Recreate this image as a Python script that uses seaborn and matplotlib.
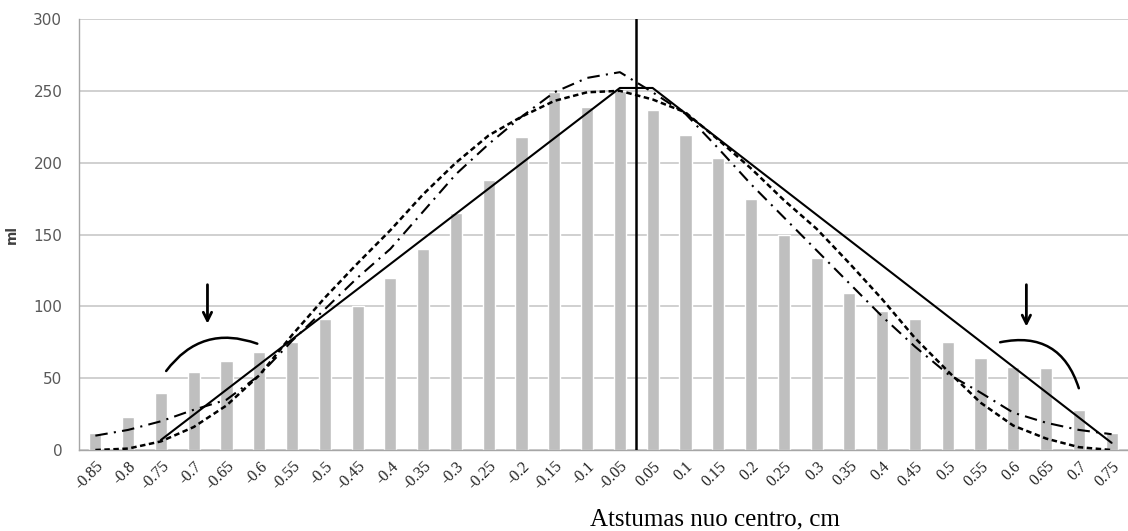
import matplotlib
matplotlib.use("Agg")
import matplotlib.pyplot as plt
import seaborn as sns
import numpy as np
import pandas as pd

# distance from the centre, cm (category labels)
distances = ["-0.85", "-0.8", "-0.75", "-0.7", "-0.65", "-0.6", "-0.55", "-0.5",
             "-0.45", "-0.4", "-0.35", "-0.3", "-0.25", "-0.2", "-0.15", "-0.1",
             "-0.05", "0.05", "0.1", "0.15", "0.2", "0.25", "0.3", "0.35",
             "0.4", "0.45", "0.5", "0.55", "0.6", "0.65", "0.7", "0.75"]

# measured volume per position (bars)
measured_ml = [12, 23, 40, 54, 62, 68, 75, 91, 100, 120, 140, 165, 188, 218, 249, 239,
               250, 237, 219, 203, 175, 150, 134, 109, 97, 91, 75, 64, 58, 57, 28, 12]

# model curves
dashed_ml = [0, 1, 6, 16, 31, 52, 80, 106, 130, 153, 178, 200, 219, 232, 243, 249,
             250, 244, 235, 216, 196, 174, 154, 130, 105, 78, 55, 33, 17, 8, 2, 0]
dashdot_ml = [10, 14, 20, 28, 35, 52, 76, 98, 120, 140, 166, 192, 213, 232, 249, 259,
              263, 249, 234, 210, 185, 162, 139, 116, 93, 72, 53, 40, 26, 19, 14, 11]

# piecewise linear model (vertices only)
linear_at = ["-0.75", "-0.05", "0.05", "0.75"]
linear_ml = [7, 252, 252, 5]

# annotation marks: arrows (x, y_from, y_to) and arcs (x0, y0, x1, y1, rad)
arrows = [(3.42, 117, 86), (28.4, 117, 84)]
arcs = [(2.16, 55, 4.94, 74, -0.37), (27.6, 75, 30.0, 43, -0.45)]

df = pd.DataFrame({"dist": distances, "ml": measured_ml})
idx = np.arange(len(distances))
lin_idx = [distances.index(d) for d in linear_at]

sns.set_style("white")
fig = plt.figure(figsize=(11.28, 5.31), dpi=100)
ax = fig.add_axes([0.070, 0.1525, 0.930, 0.8117])

sns.barplot(data=df, x="dist", y="ml", order=distances, color="#bfbfbf",
            saturation=1, width=0.37, ax=ax, zorder=2)

ax.plot(idx, dashed_ml, color="black", lw=1.8, linestyle=(0, (2.2, 1.4)), zorder=4)
ax.plot(idx, dashdot_ml, color="black", lw=1.5, linestyle=(0, (6, 3, 1, 3)), zorder=4)
ax.plot(lin_idx, linear_ml, color="black", lw=1.5, zorder=5)
ax.axvline(16.5, color="black", lw=1.8, zorder=6)

for x, y0, y1 in arrows:
    ax.annotate("", xy=(x, y1), xytext=(x, y0),
                arrowprops=dict(arrowstyle="->,head_length=0.6,head_width=0.3",
                                lw=2, color="black"), zorder=7)
for x0, y0, x1, y1, rad in arcs:
    ax.annotate("", xy=(x1, y1), xytext=(x0, y0),
                arrowprops=dict(arrowstyle="-", lw=1.8, color="black",
                                connectionstyle=f"arc3,rad={rad}",
                                shrinkA=0, shrinkB=0), zorder=7)

ax.set_xlim(-0.5, len(distances) - 0.5)
ax.set_ylim(0, 300)
ax.set_yticks(range(0, 301, 50))
ax.yaxis.grid(True, color="#c8c8c8", lw=1.2, zorder=0)
ax.set_axisbelow(True)

for s in ["top", "right"]:
    ax.spines[s].set_visible(False)
for s in ["left", "bottom"]:
    ax.spines[s].set_color("#a6a6a6")
    ax.spines[s].set_linewidth(1.0)

ax.tick_params(axis="y", length=0, labelsize=11, labelcolor="#595959", pad=12)
ax.set_xticks(idx)
ax.set_xticklabels(distances, rotation=45, ha="right", rotation_mode="anchor",
                   fontsize=11.5, family="Liberation Serif", color="#222222")
ax.tick_params(axis="x", which="major", length=0, pad=6)
ax.set_xticks(np.arange(-0.5, len(distances), 1.0), minor=True)
ax.tick_params(axis="x", which="minor", length=5, color="#a6a6a6", width=1)

ax.set_ylabel("ml", fontsize=10, fontweight="bold", color="#404040")
ax.yaxis.set_label_coords(-0.057, 0.5)
ax.set_xlabel("Atstumas nuo centro, cm", fontsize=18, family="Liberation Serif",
              color="black")
ax.xaxis.set_label_coords(0.606, -0.135)

fig.savefig("out.png", dpi=100)
